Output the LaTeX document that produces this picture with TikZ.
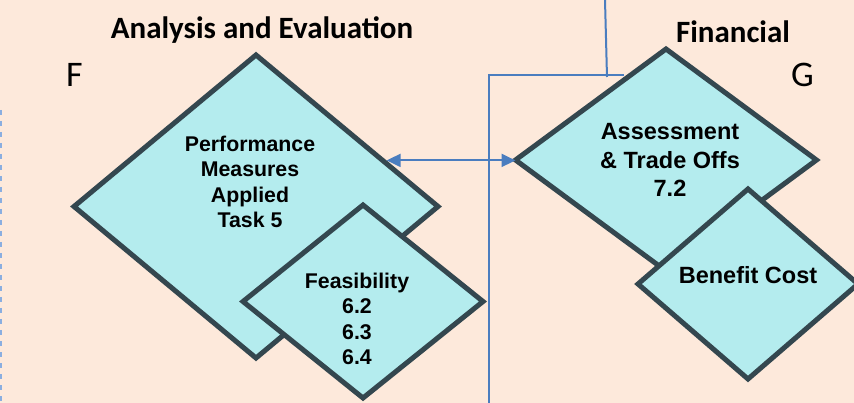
\documentclass[tikz,border=0pt]{standalone}
\usepackage{fontspec}
\setmainfont{Carlito}
\newfontfamily\arialf{Liberation Sans}
\usetikzlibrary{shapes.geometric,arrows.meta}
\definecolor{bgc}{HTML}{FDE9DB}
\definecolor{dfill}{HTML}{B4ECEE}
\definecolor{dline}{HTML}{34474F}
\definecolor{bluec}{HTML}{4A7DBF}
\definecolor{dashc}{HTML}{8AAEE0}
\begin{document}
\begin{tikzpicture}[x=1pt,y=-1pt,
  dia/.style={diamond,draw=dline,fill=dfill,line width=5pt,inner sep=0pt,outer sep=0pt,miter limit=10},
  dtexts/.style={font=\arialf\bfseries\fontsize{21.3}{25.4}\selectfont,align=center,text=black,inner sep=0pt},
  dtextl/.style={font=\arialf\bfseries\fontsize{23.5}{28.5}\selectfont,align=center,text=black,inner sep=0pt},
  head/.style={font=\fontsize{31}{37}\selectfont\bfseries,inner sep=0pt,text=black},
  letter/.style={font=\fontsize{36}{43}\selectfont,inner sep=0pt,text=black},
  bline/.style={draw=bluec,line width=2pt},
  dline2/.style={draw=dashc,line width=1.5pt,dash pattern=on 5pt off 6pt},
  tipb/.style={-{Triangle[length=14pt,width=13pt]}}
]
\fill[bgc] (0,0) rectangle (854,403);
\useasboundingbox (0,0) rectangle (854,403);

% diamonds
\node[dia,minimum width=364pt,minimum height=303pt] (d1) at (256,206.5) {};
\node[dia,minimum width=240pt,minimum height=193pt] (d2) at (363,301.5) {};
\node[dia,minimum width=301pt,minimum height=222pt] (d3) at (666,160) {};
\node[dia,minimum width=220pt,minimum height=190pt] (d4) at (748,284) {};

% texts
\node[dtexts] (t1) at (250,182) {Performance\\Measures\\Applied\\Task 5};
\node[dtexts] (t2) at (357,319) {Feasibility\\6.2\\6.3\\6.4};
\node[dtextl] (t3) at (670,160) {Assessment\\\& Trade Offs\\7.2};
\node[dtextl,anchor=base] (t4) at (748,284) {Benefit Cost};

\node[head,anchor=base] (h1) at (262,39) {Analysis and Evaluation};
\node[head,anchor=base] (h2) at (733,43) {Financial};
\node[letter,anchor=base west] (lf) at (66,87) {F};
\node[letter,anchor=base west] (lg) at (791,87) {G};

% blue lines
\coordinate (vtop) at (605,0);
\coordinate (vjoin) at (607,77);
\coordinate (hr) at (624,75);
\coordinate (corner) at (489,75);
\coordinate (vbot) at (489,403);
\draw[bline] (vtop) -- (vjoin);
\draw[bline] (hr) -- (corner) -- (vbot);
\draw[bline,{Triangle[length=14pt,width=13pt]}-{Triangle[length=14pt,width=13pt]}] ([xshift=4pt]d1.20) -- (d1.20 -| d3.west);

% dashed line at left edge
\coordinate (ds) at (1,110);
\coordinate (de) at (1,403);
\draw[dline2] (ds) -- (de);
\end{tikzpicture}
\end{document}
